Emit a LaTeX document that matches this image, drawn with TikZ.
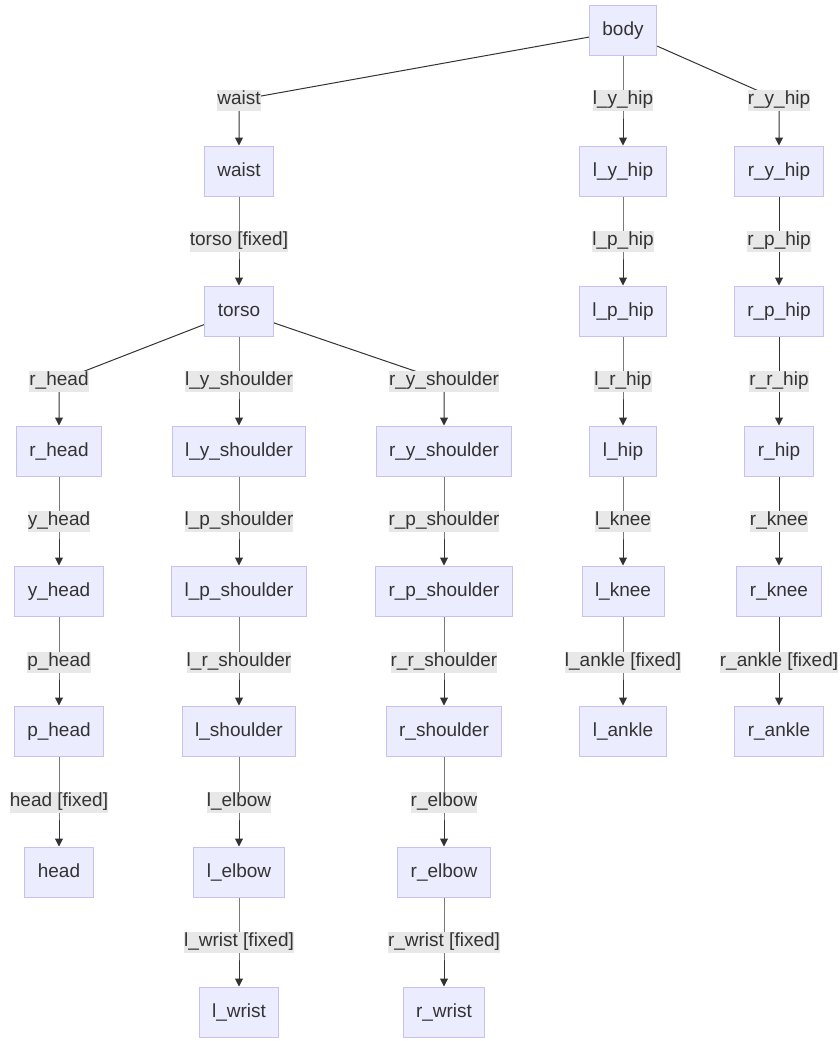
\documentclass[tikz,border=0pt]{standalone}
\usepackage{fontspec}
\setmainfont{Liberation Sans}
\usetikzlibrary{arrows.meta}
\definecolor{nodefill}{HTML}{ECECFF}
\definecolor{nodeline}{HTML}{C6C0F4}
\definecolor{ink}{HTML}{333333}
\definecolor{lblbg}{HTML}{E8E8E8}
\pgfdeclarelayer{edges}
\pgfsetlayers{edges,main}
\tikzset{
  box/.style={draw=nodeline, fill=nodefill, line width=1pt, text=ink,
    font=\fontsize{19}{23}\selectfont, minimum height=50pt, inner xsep=13pt,
    text height=14pt, text depth=4pt},
  lbl/.style={fill=lblbg, text=ink, font=\fontsize{19}{23}\selectfont,
    inner xsep=0pt, inner ysep=1pt, text height=14pt, text depth=5pt},
  edge/.style={draw=ink, line width=1pt, -{Triangle[length=8pt,width=8pt]}}
}
\begin{document}
\begin{tikzpicture}[x=1pt,y=-1pt]
\useasboundingbox (0,0) rectangle (839,1041);
% boxes
\node[box] (body) at (623,31) {body};
\node[box] (waist) at (239,171) {waist};
\node[box] (torso) at (239,311) {torso};
\node[box] (rhead) at (59,451) {r\_head};
\node[box] (yhead) at (59,591) {y\_head};
\node[box] (phead) at (59,731) {p\_head};
\node[box] (head) at (59,872) {head};
\node[box] (lys) at (239,451) {l\_y\_shoulder};
\node[box] (lps) at (239,591) {l\_p\_shoulder};
\node[box] (ls) at (239,731) {l\_shoulder};
\node[box] (le) at (239,872) {l\_elbow};
\node[box] (lw) at (239,1012) {l\_wrist};
\node[box] (rys) at (444,451) {r\_y\_shoulder};
\node[box] (rps) at (444,591) {r\_p\_shoulder};
\node[box] (rs) at (444,731) {r\_shoulder};
\node[box] (re) at (444,872) {r\_elbow};
\node[box] (rw) at (444,1012) {r\_wrist};
\node[box] (lyh) at (623,171) {l\_y\_hip};
\node[box] (lph) at (623,311) {l\_p\_hip};
\node[box] (lh) at (623,451) {l\_hip};
\node[box] (lk) at (623,591) {l\_knee};
\node[box] (la) at (623,731) {l\_ankle};
\node[box] (ryh) at (779,171) {r\_y\_hip};
\node[box] (rph) at (779,311) {r\_p\_hip};
\node[box] (rh) at (779,451) {r\_hip};
\node[box] (rk) at (779,591) {r\_knee};
\node[box] (ra) at (779,731) {r\_ankle};
% labels
\node[lbl] (Lwaist) at (239,100) {waist};
\node[lbl] (Ltorso) at (239,241) {torso [fixed]};
\node[lbl] (Lrhead) at (59,381) {r\_head};
\node[lbl] (Lyhead) at (59,521) {y\_head};
\node[lbl] (Lphead) at (59,662) {p\_head};
\node[lbl] (Lhead) at (59,802) {head [fixed]};
\node[lbl] (Llys) at (239,381) {l\_y\_shoulder};
\node[lbl] (Llps) at (239,521) {l\_p\_shoulder};
\node[lbl] (Llrs) at (239,662) {l\_r\_shoulder};
\node[lbl] (Lle) at (239,802) {l\_elbow};
\node[lbl] (Llw) at (239,942) {l\_wrist [fixed]};
\node[lbl] (Lrys) at (444,381) {r\_y\_shoulder};
\node[lbl] (Lrps) at (444,521) {r\_p\_shoulder};
\node[lbl] (Lrrs) at (444,662) {r\_r\_shoulder};
\node[lbl] (Lre) at (444,802) {r\_elbow};
\node[lbl] (Lrw) at (444,942) {r\_wrist [fixed]};
\node[lbl] (Llyh) at (623,100) {l\_y\_hip};
\node[lbl] (Llph) at (623,241) {l\_p\_hip};
\node[lbl] (Llrh) at (623,381) {l\_r\_hip};
\node[lbl] (Llk) at (623,521) {l\_knee};
\node[lbl] (Lla) at (623,662) {l\_ankle [fixed]};
\node[lbl] (Lryh) at (779,100) {r\_y\_hip};
\node[lbl] (Lrph) at (779,241) {r\_p\_hip};
\node[lbl] (Lrrh) at (779,381) {r\_r\_hip};
\node[lbl] (Lrk) at (779,521) {r\_knee};
\node[lbl] (Lra) at (779,662) {r\_ankle [fixed]};
% edges
\begin{pgfonlayer}{edges}
\draw[edge] (body) -- (Lwaist.center) -- (waist);
\draw[edge] (waist) -- (Ltorso.center) -- (torso);
\draw[edge] (torso) -- (Lrhead.center) -- (rhead);
\draw[edge] (rhead) -- (Lyhead.center) -- (yhead);
\draw[edge] (yhead) -- (Lphead.center) -- (phead);
\draw[edge] (phead) -- (Lhead.center) -- (head);
\draw[edge] (torso) -- (Llys.center) -- (lys);
\draw[edge] (lys) -- (Llps.center) -- (lps);
\draw[edge] (lps) -- (Llrs.center) -- (ls);
\draw[edge] (ls) -- (Lle.center) -- (le);
\draw[edge] (le) -- (Llw.center) -- (lw);
\draw[edge] (torso) -- (Lrys.center) -- (rys);
\draw[edge] (rys) -- (Lrps.center) -- (rps);
\draw[edge] (rps) -- (Lrrs.center) -- (rs);
\draw[edge] (rs) -- (Lre.center) -- (re);
\draw[edge] (re) -- (Lrw.center) -- (rw);
\draw[edge] (body) -- (Llyh.center) -- (lyh);
\draw[edge] (lyh) -- (Llph.center) -- (lph);
\draw[edge] (lph) -- (Llrh.center) -- (lh);
\draw[edge] (lh) -- (Llk.center) -- (lk);
\draw[edge] (lk) -- (Lla.center) -- (la);
\draw[edge] (body) -- (Lryh.center) -- (ryh);
\draw[edge] (ryh) -- (Lrph.center) -- (rph);
\draw[edge] (rph) -- (Lrrh.center) -- (rh);
\draw[edge] (rh) -- (Lrk.center) -- (rk);
\draw[edge] (rk) -- (Lra.center) -- (ra);
\end{pgfonlayer}
\end{tikzpicture}
\end{document}
